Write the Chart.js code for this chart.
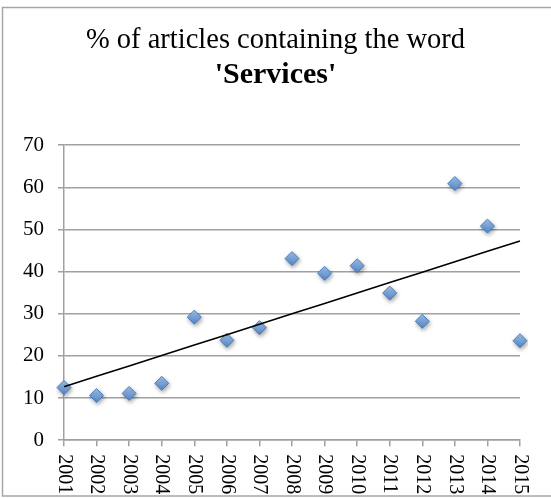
<!DOCTYPE html>
<html>
<head>
<meta charset="utf-8">
<script src="https://cdn.jsdelivr.net/npm/chart.js@4"></script>
<style>
  html, body { margin: 0; padding: 0; background: #ffffff; }
  #c { display: block; }
</style>
</head>
<body>
<canvas id="c" width="551" height="498"></canvas>
<script>
// Years on the horizontal axis
const years = ['2001', '2002', '2003', '2004', '2005', '2006', '2007', '2008',
               '2009', '2010', '2011', '2012', '2013', '2014', '2015'];
// Share of articles (%) containing the word 'Services'
const sharePct = [12.5, 10.6, 11.1, 13.5, 29.2, 23.7, 26.7, 43.1,
                  39.6, 41.4, 34.9, 28.2, 60.9, 50.8, 23.6];
// Value axis ticks
const yTicks = [0, 10, 20, 30, 40, 50, 60, 70];

const titleLine = '% of articles containing the word';
const subtitleLine = "'Services'";

// Least-squares linear trend over the series
function linearTrend(values) {
  const n = values.length;
  let sx = 0, sy = 0, sxx = 0, sxy = 0;
  values.forEach((v, i) => { sx += i; sy += v; sxx += i * i; sxy += i * v; });
  const slope = (n * sxy - sx * sy) / (n * sxx - sx * sx);
  const icpt = (sy - slope * sx) / n;
  return values.map((_, i) => icpt + slope * i);
}
const trendPct = linearTrend(sharePct);

const SERIF = '"Liberation Serif", "DejaVu Serif", serif';

// Soft drop shadow under the diamond markers
const markerShadow = {
  id: 'markerShadow',
  beforeDatasetDraw(chart, args) {
    if (args.index !== 0) return;
    const ctx = chart.ctx;
    ctx.save();
    ctx.shadowColor = 'rgba(0,0,0,0.35)';
    ctx.shadowBlur = 4;
    ctx.shadowOffsetX = 1;
    ctx.shadowOffsetY = 2;
  },
  afterDatasetDraw(chart, args) {
    if (args.index !== 0) return;
    chart.ctx.restore();
  }
};

// Year labels written top-to-bottom under each tick, plus the outer frame
const yearLabels = {
  id: 'yearLabels',
  afterDraw(chart) {
    const ctx = chart.ctx;
    const xs = chart.scales.x;
    ctx.save();
    ctx.fillStyle = '#000';
    ctx.font = '20px ' + SERIF;
    ctx.textAlign = 'left';
    ctx.textBaseline = 'middle';
    xs.ticks.forEach((t, i) => {
      const px = xs.getPixelForTick(i);
      ctx.save();
      ctx.translate(px, xs.top + 14);
      ctx.rotate(Math.PI / 2);
      ctx.fillText(years[i], 0, 0);
      ctx.restore();
    });
    // outer frame
    ctx.strokeStyle = '#a6a6a6';
    ctx.lineWidth = 1.5;
    ctx.beginPath();
    ctx.moveTo(chart.width + 2, 7.5);
    ctx.lineTo(2.5, 7.5);
    ctx.lineTo(2.5, 496);
    ctx.lineTo(chart.width + 2, 496);
    ctx.stroke();
    ctx.restore();
  }
};

function diamondFill(context) {
  const base = '#6b9edb';
  if (context.type !== 'data' || !context.parsed) return base;
  const ys = context.chart.scales.y;
  if (!ys) return base;
  const py = ys.getPixelForValue(context.parsed.y);
  if (!isFinite(py)) return base;
  const g = context.chart.ctx.createLinearGradient(0, py - 7, 0, py + 7);
  g.addColorStop(0, '#a3c4ec');
  g.addColorStop(1, '#5386c8');
  return g;
}

new Chart(document.getElementById('c'), {
  type: 'line',
  data: {
    labels: years,
    datasets: [
      {
        label: 'Services',
        data: sharePct,
        showLine: false,
        order: 1,
        pointStyle: 'rectRot',
        pointRadius: 7,
        pointBackgroundColor: diamondFill,
        pointBorderColor: '#4a7ebb',
        pointBorderWidth: 1
      },
      {
        label: 'Linear trend',
        data: trendPct,
        order: 0,
        borderColor: '#000000',
        borderWidth: 1.6,
        pointRadius: 0,
        fill: false,
        tension: 0
      }
    ]
  },
  options: {
    responsive: false,
    animation: false,
    events: [],
    layout: { padding: 0 },
    plugins: {
      legend: { display: false },
      tooltip: { enabled: false },
      title: {
        display: true,
        text: titleLine,
        color: '#000',
        font: { family: SERIF, size: 28.5, weight: 'normal', lineHeight: 1.2 },
        padding: { top: 23, bottom: 0 }
      },
      subtitle: {
        display: true,
        text: subtitleLine,
        color: '#000',
        font: { family: SERIF, size: 30, weight: 'bold', lineHeight: 1.2 },
        padding: { top: 0, bottom: 52 }
      }
    },
    scales: {
      x: {
        type: 'category',
        offset: false,
        grid: { drawOnChartArea: false, drawTicks: true, tickLength: 6, color: '#a0a0a0', lineWidth: 1.5 },
        border: { display: true, color: '#a0a0a0', width: 1.5 },
        ticks: { display: false },
        afterFit(scale) { scale.height = 57.8; }
      },
      y: {
        min: yTicks[0],
        max: yTicks[yTicks.length - 1],
        afterBuildTicks(scale) { scale.ticks = yTicks.map(v => ({ value: v })); },
        grid: { color: '#a0a0a0', lineWidth: 1.5, tickLength: 6, drawTicks: true },
        border: { display: true, color: '#a0a0a0', width: 1.5 },
        ticks: {
          color: '#000',
          padding: 14,
          font: { family: SERIF, size: 21 }
        },
        afterFit(scale) { scale.width = 64; }
      },
      // empty margin on the right of the plot
      yRight: {
        position: 'right',
        grid: { display: false },
        border: { display: false },
        ticks: { display: false },
        afterFit(scale) { scale.width = 31; }
      }
    }
  },
  plugins: [markerShadow, yearLabels]
});
</script>
</body>
</html>
